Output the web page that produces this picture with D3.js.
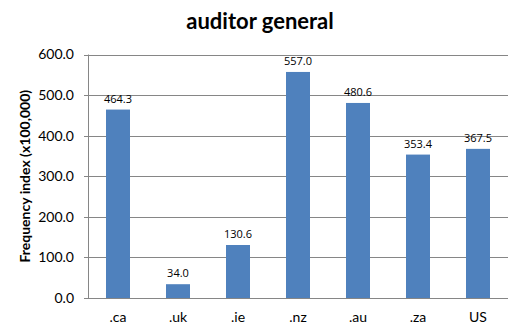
<!DOCTYPE html>
<html>
<head>
<meta charset="utf-8">
<script src="https://cdn.jsdelivr.net/npm/d3@7"></script>
<style>
  html, body { margin: 0; padding: 0; background: #fff; }
  svg { display: block; }
</style>
</head>
<body>
<script>
// Frequency index per domain for "auditor general"
const categories = [".ca", ".uk", ".ie", ".nz", ".au", ".za", "US"];
const values = [464.3, 34.0, 130.6, 557.0, 480.6, 353.4, 367.5];
const yTicks = [0, 100, 200, 300, 400, 500, 600];

const W = 520, H = 336;
const margin = { top: 54.5, right: 12, bottom: 38, left: 88 };

const svg = d3.select("body").append("svg")
  .attr("width", W).attr("height", H);

const x = d3.scaleBand()
  .domain(categories)
  .range([margin.left, W - margin.right])
  .paddingInner(0.6)
  .paddingOuter(0.3);

const y = d3.scaleLinear()
  .domain([0, 600])
  .range([H - margin.bottom, margin.top]);

// horizontal gridlines
svg.append("g")
  .selectAll("line")
  .data(yTicks)
  .join("line")
  .attr("x1", margin.left - 4)
  .attr("x2", W - margin.right)
  .attr("y1", d => Math.round(y(d)) + 0.5)
  .attr("y2", d => Math.round(y(d)) + 0.5)
  .attr("stroke", "#868686")
  .attr("stroke-width", 1);

// y axis line
svg.append("line")
  .attr("x1", margin.left + 0.5).attr("x2", margin.left + 0.5)
  .attr("y1", y(600)).attr("y2", y(0))
  .attr("stroke", "#868686");

// y tick labels
const yAxis = d3.axisLeft(y).tickValues(yTicks).tickFormat(d3.format(".1f")).tickSize(0).tickPadding(14);
const gy = svg.append("g").attr("transform", `translate(${margin.left},0)`).call(yAxis);
gy.select(".domain").remove();
gy.selectAll("text")
  .attr("font-family", "Lato, 'Open Sans', sans-serif")
  .attr("font-size", 14)
  .attr("fill", "#000");

// x tick labels
const xAxis = d3.axisBottom(x).tickSize(0).tickPadding(14);
const gx = svg.append("g").attr("transform", `translate(0,${y(0)})`).call(xAxis);
gx.select(".domain").remove();
gx.selectAll("text")
  .attr("font-family", "Lato, 'Open Sans', sans-serif")
  .attr("font-size", 14)
  .attr("fill", "#000");

// bars
svg.append("g")
  .selectAll("rect")
  .data(values)
  .join("rect")
  .attr("x", (d, i) => x(categories[i]))
  .attr("width", x.bandwidth())
  .attr("y", d => y(d))
  .attr("height", d => y(0) - y(d))
  .attr("fill", "#4F81BD");

// value labels
svg.append("g")
  .selectAll("text")
  .data(values)
  .join("text")
  .attr("x", (d, i) => x(categories[i]) + x.bandwidth() / 2)
  .attr("y", d => y(d) - 7)
  .attr("text-anchor", "middle")
  .attr("font-family", "'Open Sans', 'DejaVu Sans', sans-serif")
  .attr("font-size", 11)
  .attr("fill", "#000")
  .text(d => d3.format(".1f")(d));

// chart title
svg.append("text")
  .attr("x", 260).attr("y", 29)
  .attr("text-anchor", "middle")
  .attr("font-family", "Lato, 'Open Sans', sans-serif")
  .attr("font-weight", "bold")
  .attr("font-size", 22)
  .text("auditor general");

// y axis title
svg.append("text")
  .attr("transform", `translate(30,${(y(0) + y(600)) / 2}) rotate(-90)`)
  .attr("text-anchor", "middle")
  .attr("font-family", "Lato, 'Open Sans', sans-serif")
  .attr("font-weight", "bold")
  .attr("font-size", 14)
  .text("Frequency index (x100,000)");
</script>
</body>
</html>
